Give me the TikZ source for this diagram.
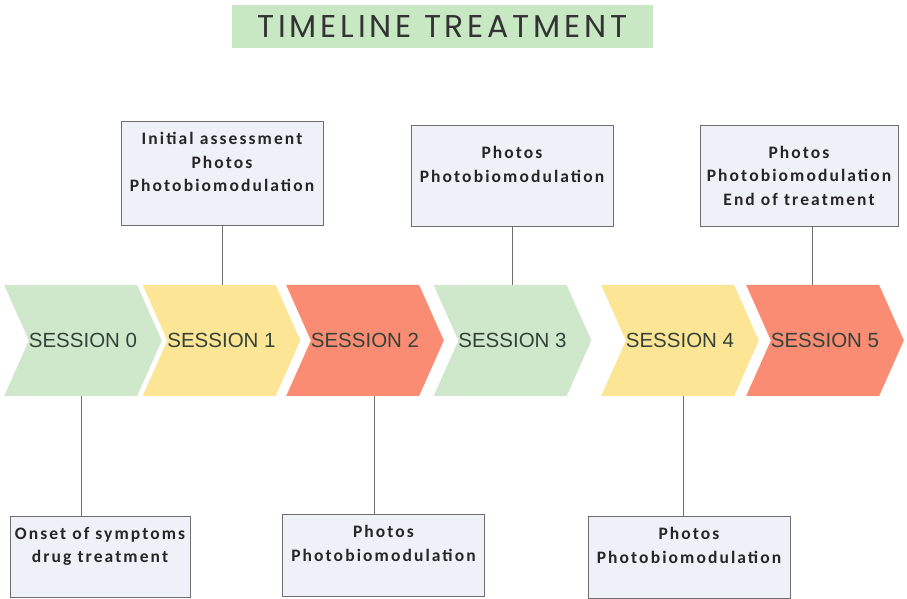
\documentclass[tikz,border=0pt]{standalone}
\usepackage{fontspec}
\setmainfont{Liberation Sans}
\newfontfamily\boxfont[LetterSpace=12]{Carlito}
\newfontfamily\titlefont[LetterSpace=12]{Poppins}
\usetikzlibrary{positioning, shapes.symbols}

\definecolor{sgreen}{HTML}{CFE8CB}
\definecolor{syellow}{HTML}{FCE696}
\definecolor{sred}{HTML}{FA8C73}
\definecolor{tgreen}{HTML}{C8E8C4}
\definecolor{boxfill}{HTML}{EEF1F7}
\definecolor{boxline}{HTML}{6E6E6E}
\definecolor{stext}{HTML}{34423A}

\begin{document}
\begin{tikzpicture}[
        x=1pt, y=1pt,
        every node/.style={font=\fontsize{20.5}{24}\selectfont},
        session/.style={signal, signal from=west, signal to=east, signal pointer angle=132, minimum width=134pt, minimum height=111pt, inner sep=0pt, text=stext},
        box/.style={draw=boxline, fill=boxfill, line width=1pt, minimum width=202pt, minimum height=101pt},
        boxtext/.style={align=center, inner sep=0pt, font=\boxfont\bfseries\fontsize{17.5}{23.5}\selectfont, text=black!85},
        conn/.style={draw=boxline, line width=1pt}
    ]
    \useasboundingbox (0,0) rectangle (907,599);

    \node[fill=tgreen, minimum width=421pt, minimum height=43pt, font=\titlefont\fontsize{31.5}{33}\selectfont, text=black!80] (title) at (442.5,572.5) {TIMELINE TREATMENT};

    \node[session, fill=sgreen] (s0) at (83,258.5) {SESSION 0};
    \node[session, fill=syellow] (s1) at (221.5,258.5) {SESSION 1};
    \node[session, fill=sred] (s2) at (365,258.5) {SESSION 2};
    \node[session, fill=sgreen] (s3) at (512.5,258.5) {SESSION 3};
    \node[session, fill=syellow] (s4) at (680,258.5) {SESSION 4};
    \node[session, fill=sred] (s5) at (825,258.5) {SESSION 5};

    \node[box, minimum height=104pt] (b1) at (222,425) {};
    \node[box] (b3) at (512,422.5) {};
    \node[box, minimum width=198pt] (b5) at (799,423) {};
    \node[box, minimum width=180pt, minimum height=81pt] (b0) at (100,42) {};
    \node[box, minimum height=82pt] (b2) at (383.5,43) {};
    \node[box, minimum height=82pt] (b4) at (689,41) {};

    \node[boxtext, below=11pt of b1.north] (t1) {Initial assessment\\Photos\\Photobiomodulation};
    \node[boxtext, below=21pt of b3.north] (t3) {Photos\\Photobiomodulation};
    \node[boxtext, below=21pt of b5.north] (t5) {Photos\\Photobiomodulation\\End of treatment};
    \node[boxtext, below=11pt of b0.north] (t0) {Onset of symptoms\\drug treatment};
    \node[boxtext, below=11pt of b2.north] (t2) {Photos\\Photobiomodulation};
    \node[boxtext, below=11pt of b4.north] (t4) {Photos\\Photobiomodulation};

    \draw[conn] (b1.south) -- (b1.south |- s1.north);
    \draw[conn] (b3.south) -- (b3.south |- s3.north);
    \draw[conn] ([xshift=-13pt]s5.north) -- ([xshift=-13pt]s5.north |- b5.south);
    \draw[conn] ([xshift=-2pt]s0.south) -- ([xshift=-2pt]s0.south |- b0.north);
    \draw[conn] ([xshift=9pt]s2.south) -- ([xshift=9pt]s2.south |- b2.north);
    \draw[conn] ([xshift=3pt]s4.south) -- ([xshift=3pt]s4.south |- b4.north);

\end{tikzpicture}
\end{document}
